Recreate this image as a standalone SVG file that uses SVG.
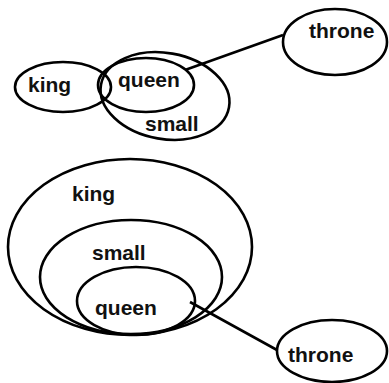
<svg xmlns="http://www.w3.org/2000/svg" width="389" height="383" viewBox="0 0 389 383">
<style>
.n{fill:none;stroke:#000;stroke-width:2.6}
.t{font-family:"Liberation Sans",Arial,sans-serif;font-weight:bold;font-size:21px;fill:#111}
.c{stroke:#000;stroke-width:2.6;fill:none}
</style>
<rect width="389" height="383" fill="#fff"/>
<g id="connectors">
<line class="c" x1="185" y1="70" x2="283" y2="35"/>
<line class="c" x1="190" y1="302" x2="277" y2="350"/>
</g>
<g id="top-king"><ellipse class="n" cx="63" cy="87" rx="48" ry="25"/><text class="t" x="28" y="92">king</text></g>
<g id="top-small"><ellipse class="n" cx="165" cy="96" rx="65" ry="43" transform="rotate(10 165 96)"/><text class="t" x="145" y="131">small</text></g>
<g id="top-queen"><ellipse class="n" cx="146" cy="85" rx="48" ry="27"/><text class="t" x="118" y="87">queen</text></g>
<g id="top-throne"><ellipse class="n" cx="335" cy="42" rx="52" ry="33"/><text class="t" x="309" y="38">throne</text></g>
<g id="bottom-king"><ellipse class="n" cx="130" cy="247" rx="122" ry="88"/><text class="t" x="72" y="201">king</text></g>
<g id="bottom-small"><ellipse class="n" cx="131" cy="277" rx="91" ry="57"/><text class="t" x="92" y="260">small</text></g>
<g id="bottom-queen"><ellipse class="n" cx="136" cy="301" rx="59" ry="34"/><text class="t" x="95" y="315">queen</text></g>
<g id="bottom-throne"><ellipse class="n" cx="332" cy="351" rx="55" ry="31"/><text class="t" x="288" y="362">throne</text></g>
</svg>
